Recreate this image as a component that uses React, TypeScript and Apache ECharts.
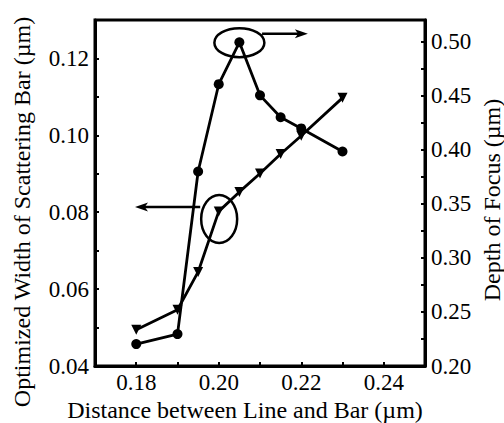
import React, { useEffect, useRef } from "react";
import * as echarts from "echarts";

// Distance between line and bar (µm)
const distances = [0.18, 0.19, 0.195, 0.2, 0.205, 0.21, 0.215, 0.22, 0.23];
// Optimized width of scattering bar (µm) — left axis, circles
const barWidths = [0.0457, 0.0483, 0.0906, 0.1133, 0.1242, 0.1104, 0.1047, 0.1018, 0.0958];
// Depth of focus (µm) — right axis, triangles
const depthOfFocus = [0.2335, 0.252, 0.287, 0.343, 0.361, 0.378, 0.396, 0.413, 0.448];

const xTitle = "Distance between Line and Bar (\u00b5m)";
const leftTitle = "Optimized Width of Scattering Bar (\u00b5m)";
const rightTitle = "Depth of Focus (\u00b5m)";

// Annotation anchors in data coordinates
const topEllipseCenter = [0.205, 0.1241]; // left axis
const topArrow = [[0.2105, 0.1264], [0.2216, 0.1264]]; // left axis, pointing right
const lowEllipseCenter = [0.2001, 0.336]; // right axis
const lowArrow = [[0.1955, 0.347], [0.1797, 0.347]]; // right axis, pointing left

const FONT = "Liberation Serif";

export default function App() {
  const ref = useRef<HTMLDivElement>(null);

  useEffect(() => {
    if (!ref.current) return;
    const chart = echarts.init(ref.current, null, { renderer: "svg" });
    const labelStyle = { color: "#000", fontFamily: FONT, fontSize: 23 };
    const axisLine = { show: true, lineStyle: { color: "#000", width: 3 } };
    const axisTick = { show: true, inside: true, length: 4, lineStyle: { color: "#000", width: 2 } };

    chart.setOption({
      animation: false,
      backgroundColor: "#fff",
      textStyle: { fontFamily: FONT },
      grid: {
        left: 95,
        right: 79,
        top: 20,
        bottom: 57,
        show: true,
        borderColor: "#000",
        borderWidth: 3,
        outerBoundsMode: "none",
      },
      xAxis: {
        type: "value",
        min: 0.17,
        max: 0.25,
        interval: 0.01,
        axisLine,
        axisTick,
        splitLine: { show: false },
        axisLabel: {
          ...labelStyle,
          margin: 5,
          formatter: (v: number) => {
            const k = Math.round(v * 100);
            return k % 2 === 0 && k > 17 && k < 25 ? v.toFixed(2) : "";
          },
        },
      },
      yAxis: [
        {
          type: "value",
          position: "left",
          min: 0.04,
          max: 0.13,
          interval: 0.01,
          axisLine,
          axisTick,
          splitLine: { show: false },
          axisLabel: {
            ...labelStyle,
            margin: 6,
            formatter: (v: number) => {
              const k = Math.round(v * 100);
              return k % 2 === 0 && k < 13 ? v.toFixed(2) : "";
            },
          },
        },
        {
          type: "value",
          position: "right",
          min: 0.2,
          max: 0.52,
          interval: 0.025,
          axisLine,
          axisTick,
          splitLine: { show: false },
          axisLabel: {
            ...labelStyle,
            margin: 6,
            formatter: (v: number) => {
              const k = Math.round(v * 1000);
              return k % 50 === 0 && k <= 500 ? v.toFixed(2) : "";
            },
          },
        },
      ],
      series: [
        {
          name: "width",
          type: "line",
          yAxisIndex: 0,
          data: distances.map((d, i) => [d, barWidths[i]]),
          symbol: "circle",
          symbolSize: 10,
          itemStyle: { color: "#000" },
          lineStyle: { color: "#000", width: 2.8 },
          z: 3,
        },
        {
          name: "dof",
          type: "line",
          yAxisIndex: 1,
          data: distances.map((d, i) => [d, depthOfFocus[i]]),
          symbol: "triangle",
          symbolRotate: 180,
          symbolSize: 10,
          itemStyle: { color: "#000" },
          lineStyle: { color: "#000", width: 2.8 },
          z: 3,
        },
      ],
    });

    const px = (yIdx: number, p: number[]) =>
      chart.convertToPixel({ xAxisIndex: 0, yAxisIndex: yIdx }, p) as number[];

    const arrow = (a: number[], b: number[]) => {
      const dx = b[0] - a[0];
      const dir = dx >= 0 ? 1 : -1;
      const headLen = 13;
      const half = 4.5;
      return [
        {
          type: "line",
          shape: { x1: a[0], y1: a[1], x2: b[0] - dir * headLen * 0.6, y2: b[1] },
          style: { stroke: "#000", lineWidth: 2.5 },
          z: 10,
        },
        {
          type: "polygon",
          shape: {
            points: [
              [b[0], b[1]],
              [b[0] - dir * headLen, b[1] - half],
              [b[0] - dir * headLen * 0.75, b[1]],
              [b[0] - dir * headLen, b[1] + half],
            ],
          },
          style: { fill: "#000" },
          z: 10,
        },
      ];
    };

    const tc = px(0, topEllipseCenter);
    const lc = px(1, lowEllipseCenter);
    const ta0 = px(0, topArrow[0]);
    const ta1 = px(0, topArrow[1]);
    const la0 = px(1, lowArrow[0]);
    const la1 = px(1, lowArrow[1]);

    const titleStyle = (text: string) => ({
      text,
      fontFamily: FONT,
      fontSize: 24,
      fill: "#000",
      textAlign: "center",
      textVerticalAlign: "middle",
    });

    chart.setOption({
      graphic: [
        {
          type: "ellipse",
          shape: { cx: tc[0], cy: tc[1], rx: 25, ry: 14.5 },
          style: { fill: "none", stroke: "#000", lineWidth: 2.5 },
          z: 10,
        },
        {
          type: "ellipse",
          shape: { cx: lc[0], cy: lc[1], rx: 18, ry: 24 },
          style: { fill: "none", stroke: "#000", lineWidth: 2.5 },
          z: 10,
        },
        ...arrow(ta0, ta1),
        ...arrow(la0, la1),
        { type: "text", x: 22, y: 212, rotation: Math.PI / 2, style: titleStyle(leftTitle) },
        { type: "text", x: 492, y: 200, rotation: Math.PI / 2, style: titleStyle(rightTitle) },
        { type: "text", x: 245, y: 410, style: titleStyle(xTitle) },
      ],
    });

    return () => chart.dispose();
  }, []);

  return (
    <div
      ref={ref}
      style={{ position: "fixed", left: 0, top: 0, width: 504, height: 423, background: "#fff" }}
    />
  );
}
